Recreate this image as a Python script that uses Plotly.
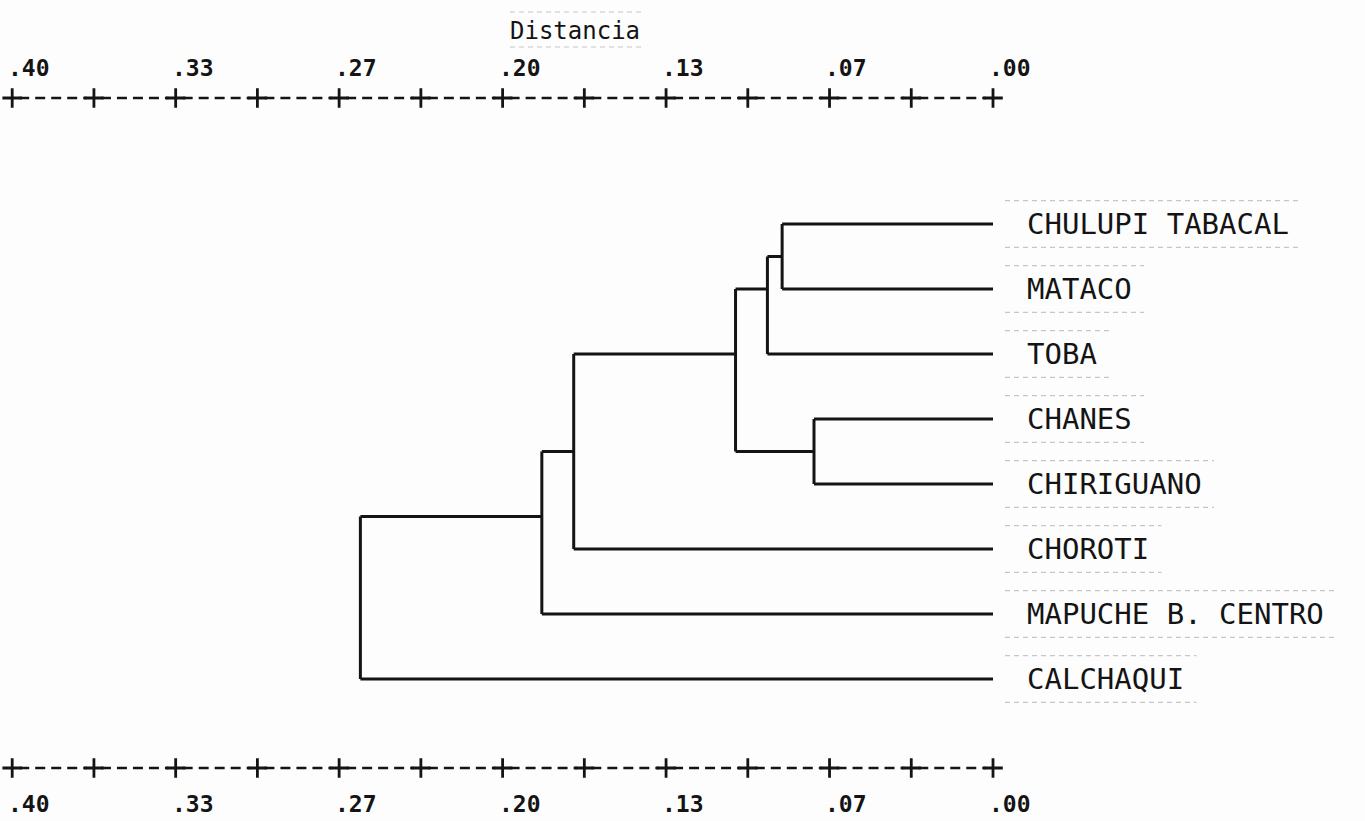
import plotly.graph_objects as go

# ---------------- data ----------------
leaves = ["CHULUPI TABACAL", "MATACO", "TOBA", "CHANES", "CHIRIGUANO",
          "CHOROTI", "MAPUCHE B. CENTRO", "CALCHAQUI"]
# linkage: (child a, child b, distance); new cluster ids start at len(leaves)
merge_a = [0, 8, 3, 9, 11, 12, 13]
merge_b = [1, 2, 4, 10, 5, 6, 7]
merge_dist = [0.086, 0.092, 0.073, 0.105, 0.171, 0.184, 0.258]

tick_values = [0.40 - k / 30 for k in range(13)]
tick_label_values = [0.40, 0.3333, 0.2667, 0.20, 0.1333, 0.0667, 0.00]
tick_labels = [".40", ".33", ".27", ".20", ".13", ".07", ".00"]
axis_title = "Distancia"

# ---------------- geometry helpers ----------------
W, H = 1365, 821
PX_PER_UNIT = 2452.0
X0_PX = 993.0          # pixel of distance 0
ROW0_PX, ROW_PX = 224.0, 65.0
LABEL_PITCH = 17.5     # px per character of the leaf labels


def ypx(px):
    return (px - ROW0_PX) / ROW_PX


def dpx(px):
    return px / PX_PER_UNIT


xr = [X0_PX / PX_PER_UNIT, -(W - X0_PX) / PX_PER_UNIT]
yr = [ypx(H), ypx(0)]

INK = "#141414"
FAINT = "#c6c6c6"

# ---------------- dendrogram ----------------
pos = {i: float(i) for i in range(len(leaves))}
hgt = {i: 0.0 for i in range(len(leaves))}
xs, ys = [], []
for k, (a, b, d) in enumerate(zip(merge_a, merge_b, merge_dist)):
    node = len(leaves) + k
    for c in (a, b):
        xs += [hgt[c], d, None]
        ys += [pos[c], pos[c], None]
    xs += [d, d, None]
    ys += [pos[a], pos[b], None]
    mid = (pos[a] + pos[b]) / 2
    pos[node] = int(mid * 2) / 2.0   # printed on a half-line grid
    hgt[node] = d

fig = go.Figure()

# faint scanned rules around the printed labels
rx, ry = [], []
for i, name in enumerate(leaves):
    x_start = -dpx(12)
    x_end = -dpx(32 + len(name) * LABEL_PITCH + 14)
    for off in (-0.36, 0.36):
        rx += [x_start, x_end, None]
        ry += [pos[i] + off, pos[i] + off, None]
for yy in (ypx(12), ypx(47)):
    rx += [dpx(X0_PX - 510), dpx(X0_PX - 642), None]
    ry += [yy, yy, None]
fig.add_trace(go.Scatter(x=rx, y=ry, mode="lines",
                         line=dict(color=FAINT, width=1.1, dash="5px,4px"),
                         hoverinfo="skip", showlegend=False))

fig.add_trace(go.Scatter(x=xs, y=ys, mode="lines",
                         line=dict(color=INK, width=3), hoverinfo="skip",
                         showlegend=False))

# ---------------- printed axes (+----+----+) ----------------
gap = dpx(7)
for axis_y in (ypx(98), ypx(768)):
    sx, sy = [], []
    for t0, t1 in zip(tick_values[:-1], tick_values[1:]):
        sx += [t0 - gap, t1 + gap, None]
        sy += [axis_y, axis_y, None]
    fig.add_trace(go.Scatter(x=sx, y=sy, mode="lines",
                             line=dict(color=INK, width=2.4, dash="10px,6px"),
                             hoverinfo="skip", showlegend=False))
    fig.add_trace(go.Scatter(x=tick_values, y=[axis_y] * len(tick_values),
                             mode="markers",
                             marker=dict(symbol="cross-thin", size=14,
                                         line=dict(color=INK, width=2.8)),
                             hoverinfo="skip", showlegend=False))

annotations = []
for lab_y in (ypx(68), ypx(804)):
    for v, t in zip(tick_label_values, tick_labels):
        annotations.append(dict(x=v, y=lab_y, xref="x", yref="y", text=t,
                                showarrow=False, xanchor="left", xshift=-6,
                                yanchor="middle",
                                font=dict(family="DejaVu Sans Mono", size=23,
                                          color=INK, weight="bold")))

annotations.append(dict(x=dpx(X0_PX - 575), y=ypx(31), xref="x", yref="y",
                        text=axis_title, showarrow=False, xanchor="center",
                        yanchor="middle",
                        font=dict(family="DejaVu Sans Mono", size=24,
                                  color=INK)))

for i, name in enumerate(leaves):
    annotations.append(dict(x=0, y=pos[i], xref="x", yref="y", text=name,
                            showarrow=False, xanchor="left", xshift=32,
                            yanchor="middle",
                            font=dict(family="DejaVu Sans Mono", size=29,
                                      color=INK)))

fig.update_layout(
    width=W, height=H,
    margin=dict(l=0, r=0, t=0, b=0),
    paper_bgcolor="#fdfdfd", plot_bgcolor="#fdfdfd",
    xaxis=dict(range=xr, visible=False, showgrid=False, zeroline=False),
    yaxis=dict(range=yr, visible=False, showgrid=False, zeroline=False),
    annotations=annotations,
    showlegend=False,
)

fig.write_html("out.html")
